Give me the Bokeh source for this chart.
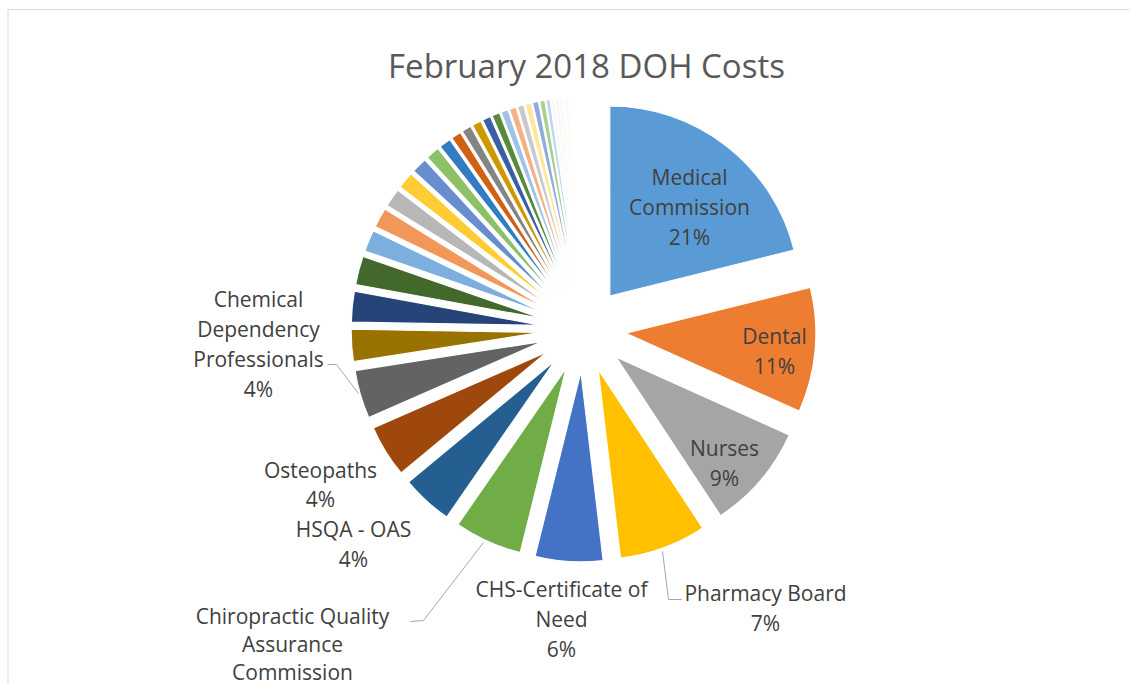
import numpy as np
from bokeh.plotting import figure
from bokeh.models import ColumnDataSource, Range1d
from bokeh.core.properties import value
from bokeh.embed import file_html
from bokeh.resources import INLINE

# ---------------- data (percent of February 2018 DOH costs) ----------------
categories = [
    "Medical Commission", "Dental", "Nurses", "Pharmacy Board",
    "CHS-Certificate of Need", "Chiropractic Quality Assurance Commission",
    "HSQA - OAS", "Osteopaths", "Chemical Dependency Professionals",
] + [f"Program {i}" for i in range(10, 54)]

shares = [
    21.1, 10.6, 9.0, 7.4, 5.75, 5.75, 4.35, 4.45, 4.1,
    2.72, 2.61, 2.44, 1.83, 1.67, 1.56, 1.44, 1.33, 1.17,
    1.0, 0.86, 0.81, 0.78, 0.72, 0.67, 0.61, 0.58, 0.54, 0.53, 0.5, 0.44, 0.36,
    0.3, 0.27, 0.24, 0.21, 0.18, 0.16, 0.14, 0.12, 0.1, 0.09, 0.08, 0.07,
    0.06, 0.05, 0.04, 0.04, 0.03, 0.03, 0.02, 0.02, 0.01, 0.01,
]

title_text = "February 2018 DOH Costs"

# ---------------- styles ----------------
base_colors = [
    "#5B9BD5", "#ED7D31", "#A5A5A5", "#FFC000", "#4472C4", "#70AD47",
    "#255E91", "#9E480E", "#636363", "#997300", "#264478", "#43682B",
    "#7CAFDD", "#F1975A", "#B7B7B7", "#FFCD33", "#698ED0", "#8CC168",
    "#327DC2", "#D26012", "#848484", "#CC9A00", "#3A5FA3", "#5A8A39",
    "#9DC3E6", "#F4B183", "#C9C9C9", "#FFE699", "#8FAADC", "#A9D18E",
    "#BDD7EE",
]
pale_colors = ["#F4F8FC", "#FDF3EC", "#F6F6F6", "#FFF9E8", "#F0F4FA", "#F2F8EE"]
colors = (base_colors + pale_colors * 6)[:len(shares)]

# ---------------- layout (pixels, same frame as the picture) ----------------
W, H = 1129, 684
CX, CY = 583.1, 329.0      # pie centre
EXPLODE = 42.5             # explosion distance
RADIUS = 190.0
FONT = "Open Sans"
LABEL_SIZE = "21px"

# label line wrapping and placement: index -> (lines, centre x, first line y, line gap)
label_layout = {
    0: (["Medical", "Commission", "{p}"], 689, 176, 30),
    1: (["Dental", "{p}"], 774, 335, 30),
    2: (["Nurses", "{p}"], 724, 447, 30),
    3: (["Pharmacy Board", "{p}"], 765, 592, 30),
    4: (["CHS-Certificate of", "Need", "{p}"], 561, 588, 30),
    5: (["Chiropractic Quality", "Assurance", "Commission"], 292, 615, 28),
    6: (["HSQA - OAS", "{p}"], 353, 528, 30),
    7: (["Osteopaths", "{p}"], 320, 469, 29),
    8: (["Chemical", "Dependency", "Professionals", "{p}"], 258, 298, 30),
}
leaders = [
    [(327, 364), (336, 364), (358, 393)],
    [(410, 621), (423, 620), (483, 542)],
    [(662, 551), (668, 599), (681, 599)],
]

# ---------------- geometry from the data ----------------
vals = np.array(shares, dtype=float)
frac = vals / vals.sum()
th_end = np.cumsum(frac) * 360.0          # clockwise from 12 o'clock
th_start = th_end - frac * 360.0
th_mid = (th_start + th_end) / 2.0
ax = CX + EXPLODE * np.sin(np.radians(th_mid))
ay = -(CY - EXPLODE * np.cos(np.radians(th_mid)))

src = ColumnDataSource(dict(
    x=ax, y=ay,
    start=np.radians(90.0 - th_end),
    end=np.radians(90.0 - th_start),
    color=colors, name=categories, share=vals,
))

p = figure(width=W, height=H, x_range=Range1d(0, W), y_range=Range1d(-H, 0),
           output_backend="svg", toolbar_location=None, min_border=0,
           x_axis_location=None, y_axis_location=None)
p.grid.visible = False
p.outline_line_color = None
p.background_fill_color = "white"
p.border_fill_color = "white"

# chart-area border
p.quad(left=[7.5], right=[1143], top=[-9], bottom=[-730], fill_color=None,
       line_color="#D9D9D9", line_width=1)

p.wedge(x="x", y="y", radius=RADIUS, start_angle="start", end_angle="end",
        direction="anticlock", fill_color="color", line_color="white",
        line_width=1.2, source=src)

# leader lines
p.multi_line(xs=[[pt[0] for pt in seg] for seg in leaders],
             ys=[[-pt[1] for pt in seg] for seg in leaders],
             line_color="#A6A6A6", line_width=1)

# data labels
tx, ty, tt = [], [], []
for idx, (lines, lx, ly, gap) in label_layout.items():
    pct = f"{int(round(frac[idx] * 100))}%"
    for k, ln in enumerate(lines):
        tx.append(lx)
        ty.append(-(ly + k * gap))
        tt.append(ln.replace("{p}", pct))
p.text(x=tx, y=ty, text=tt, text_font=value(FONT), text_font_size=LABEL_SIZE,
       text_color="#404040", text_align="center", text_baseline="middle")

# title
p.text(x=[586], y=[-65], text=[title_text], text_font=value(FONT),
       text_font_size="33px", text_color="#595959", text_align="center",
       text_baseline="alphabetic")

open("out.html", "w").write(file_html(p, INLINE))
